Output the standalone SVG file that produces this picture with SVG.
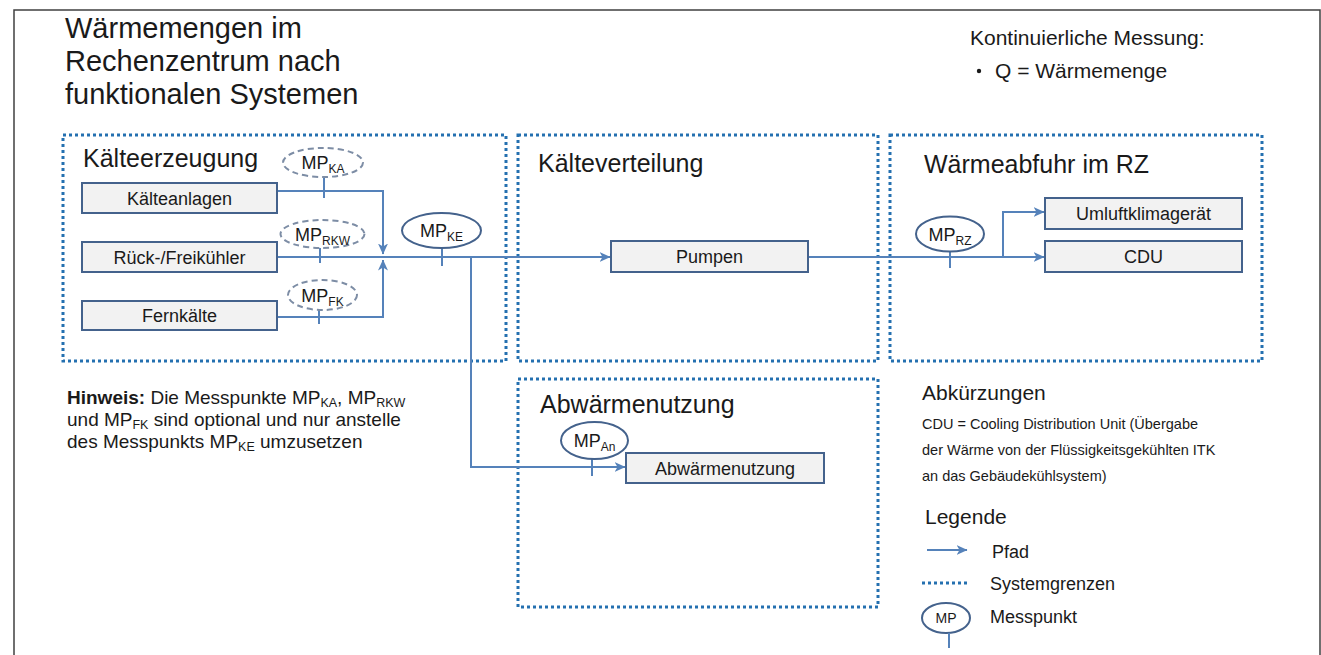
<svg xmlns="http://www.w3.org/2000/svg" width="1321" height="655" viewBox="0 0 1321 655">
<style>
text{font-family:"Liberation Sans",Arial,sans-serif;fill:#1a1a1a}
.sys{fill:none;stroke:#2470B0;stroke-width:3;stroke-dasharray:3 3}
.box{fill:#F2F2F2;stroke:#44628C;stroke-width:2}
.lbl{font-size:18px;text-anchor:middle}
.hd{font-size:25px}
.con{fill:none;stroke:#5582BA;stroke-width:2}
.mp{fill:#fff;stroke:#44628C;stroke-width:2}
.mpo{fill:#fff;stroke:#7D8DA5;stroke-width:2;stroke-dasharray:6 4}
.tick{stroke:#5582BA;stroke-width:2}
.mpt{font-size:18px;text-anchor:middle}
</style>
<defs>
<marker id="arr" markerUnits="userSpaceOnUse" markerWidth="11" markerHeight="10" viewBox="0 0 11 10" refX="10.5" refY="5" orient="auto">
<path d="M0,0 L11,5 L0,10 L3,5 z" fill="#5582BA"/>
</marker>
</defs>
<rect x="0" y="0" width="1321" height="655" fill="#fff"/>
<path d="M14,660 V10 H1320 V660" fill="none" stroke="#404040" stroke-width="1.5"/>
<g id="title">
<text x="65" y="38" font-size="29">Wärmemengen im</text>
<text x="65" y="71" font-size="29">Rechenzentrum nach</text>
<text x="65" y="104" font-size="29">funktionalen Systemen</text>
</g>
<g id="messung">
<text x="970" y="45" font-size="21">Kontinuierliche Messung:</text>
<circle cx="979" cy="71" r="2.2" fill="#1a1a1a"/>
<text x="995" y="78" font-size="21">Q = Wärmemenge</text>
</g>
<g id="sys-kaelteerzeugung">
<rect class="sys" x="63" y="135" width="443" height="226"/>
<text class="hd" x="83" y="167">Kälteerzeugung</text>
</g>
<g id="sys-kaelteverteilung">
<rect class="sys" x="518" y="135" width="360" height="226"/>
<text class="hd" x="538" y="172">Kälteverteilung</text>
</g>
<g id="sys-waermeabfuhr">
<rect class="sys" x="890" y="135" width="372" height="226"/>
<text class="hd" x="924" y="173">Wärmeabfuhr im RZ</text>
</g>
<g id="sys-abwaerme">
<rect class="sys" x="518" y="379" width="360" height="228"/>
<text class="hd" x="540" y="413">Abwärmenutzung</text>
</g>
<g id="connectors">
<path class="con" d="M277,191 H383 V254" marker-end="url(#arr)"/>
<path class="con" d="M277,317 H383 V260" marker-end="url(#arr)"/>
<path class="con" d="M277,257 H610" marker-end="url(#arr)"/>
<path class="con" d="M471,257 V467 H625" marker-end="url(#arr)"/>
<path class="con" d="M808,257 H1044" marker-end="url(#arr)"/>
<path class="con" d="M1003,257 V212 H1044" marker-end="url(#arr)"/>
<line class="tick" x1="324" y1="177" x2="324" y2="198"/>
<line class="tick" x1="320" y1="248" x2="320" y2="263"/>
<line class="tick" x1="319" y1="310" x2="319" y2="324"/>
<line class="tick" x1="442" y1="248" x2="442" y2="266"/>
<line class="tick" x1="950" y1="251" x2="950" y2="268"/>
<line class="tick" x1="592" y1="459" x2="592" y2="476"/>
</g>
<g id="n-kaelteanlagen">
<rect class="box" x="82" y="183" width="195" height="30"/>
<text class="lbl" x="179.5" y="204.5">Kälteanlagen</text>
</g>
<g id="n-rueckkuehler">
<rect class="box" x="82" y="242" width="195" height="30"/>
<text class="lbl" x="179.5" y="263.5">Rück-/Freikühler</text>
</g>
<g id="n-fernkaelte">
<rect class="box" x="82" y="301" width="195" height="29"/>
<text class="lbl" x="179.5" y="322">Fernkälte</text>
</g>
<g id="n-pumpen">
<rect class="box" x="611" y="241" width="197" height="31"/>
<text class="lbl" x="709.5" y="263">Pumpen</text>
</g>
<g id="n-umluft">
<rect class="box" x="1045" y="198" width="197" height="31"/>
<text class="lbl" x="1143.5" y="220">Umluftklimagerät</text>
</g>
<g id="n-cdu">
<rect class="box" x="1045" y="241" width="197" height="31"/>
<text class="lbl" x="1143.5" y="263">CDU</text>
</g>
<g id="n-abwaerme">
<rect class="box" x="626" y="453" width="198" height="30"/>
<text class="lbl" x="725" y="474.5">Abwärmenutzung</text>
</g>
<g id="mp-ka">
<ellipse class="mpo" cx="323" cy="162.5" rx="40" ry="14.5"/>
<text class="mpt" x="323" y="169">MP<tspan font-size="12" dy="4">KA</tspan></text>
</g>
<g id="mp-rkw">
<ellipse class="mpo" cx="322.5" cy="234" rx="42" ry="14"/>
<text class="mpt" x="322.5" y="240.5">MP<tspan font-size="12" dy="4">RKW</tspan></text>
</g>
<g id="mp-fk">
<ellipse class="mpo" cx="322.5" cy="295" rx="34.5" ry="15"/>
<text class="mpt" x="322.5" y="301.5">MP<tspan font-size="12" dy="4">FK</tspan></text>
</g>
<g id="mp-ke">
<ellipse class="mp" cx="441.5" cy="230.5" rx="39.5" ry="17.5"/>
<text class="mpt" x="441.5" y="237">MP<tspan font-size="12" dy="4">KE</tspan></text>
</g>
<g id="mp-rz">
<ellipse class="mp" cx="950" cy="234" rx="34" ry="17.5"/>
<text class="mpt" x="950" y="240.5">MP<tspan font-size="12" dy="4">RZ</tspan></text>
</g>
<g id="mp-an">
<ellipse class="mp" cx="594.5" cy="440.5" rx="33.5" ry="18.5"/>
<text class="mpt" x="594.5" y="447">MP<tspan font-size="12" dy="4">An</tspan></text>
</g>
<g id="hinweis">
<text x="67" y="404" font-size="19"><tspan font-weight="bold">Hinweis:</tspan> Die Messpunkte MP<tspan font-size="12.5" dy="3">KA</tspan><tspan dy="-3">, MP</tspan><tspan font-size="12.5" dy="3">RKW</tspan></text>
<text x="67" y="426" font-size="19">und MP<tspan font-size="12.5" dy="3">FK</tspan><tspan dy="-3"> sind optional und nur anstelle</tspan></text>
<text x="67" y="448" font-size="19">des Messpunkts MP<tspan font-size="12.5" dy="3">KE</tspan><tspan dy="-3"> umzusetzen</tspan></text>
</g>
<g id="abkuerzungen">
<text x="922" y="400" font-size="21">Abkürzungen</text>
<text x="922" y="429" font-size="14.5">CDU = Cooling Distribution Unit (Übergabe</text>
<text x="922" y="455" font-size="14.5">der Wärme von der Flüssigkeitsgekühlten ITK</text>
<text x="922" y="481" font-size="14.5">an das Gebäudekühlsystem)</text>
</g>
<g id="legende">
<text x="925" y="524" font-size="21">Legende</text>
<line class="con" x1="927" y1="550" x2="967" y2="550" marker-end="url(#arr)"/>
<text x="992" y="558" font-size="18">Pfad</text>
<line x1="922" y1="583" x2="968" y2="583" stroke="#2470B0" stroke-width="3" stroke-dasharray="3 3"/>
<text x="990" y="590" font-size="18">Systemgrenzen</text>
<ellipse class="mp" cx="946" cy="618" rx="24" ry="15"/>
<line class="tick" x1="949" y1="633" x2="949" y2="648"/>
<text x="946" y="623" font-size="14" text-anchor="middle">MP</text>
<text x="990" y="623" font-size="18">Messpunkt</text>
</g>
</svg>
